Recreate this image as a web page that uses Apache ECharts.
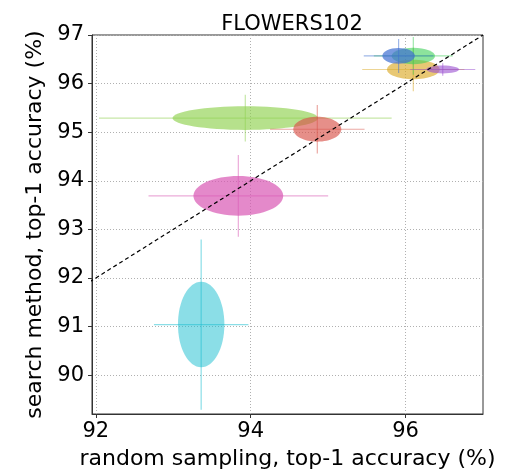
<!DOCTYPE html>
<html>
<head>
<meta charset="utf-8">
<script src="https://cdn.jsdelivr.net/npm/echarts@6/dist/echarts.min.js"></script>
<style>
  html, body { margin: 0; padding: 0; background: #fff; }
  #main { width: 523px; height: 475px; }
</style>
</head>
<body>
<div id="main"></div>
<script>
// mean accuracy of each run (random sampling vs search method)
var xMean = [93.36, 93.84, 93.93, 94.86, 96.10, 96.10, 95.91, 96.48];
var yMean = [91.04, 93.69, 95.29, 95.06, 96.29, 96.57, 96.57, 96.29];
// ellipse half-widths (std)
var xStd = [0.30, 0.58, 0.94, 0.31, 0.34, 0.28, 0.21, 0.21];
var yStd = [0.88, 0.41, 0.245, 0.255, 0.20, 0.17, 0.16, 0.08];
// error bar half-lengths (min/max)
var xErr = [0.61, 1.16, 1.89, 0.61, 0.66, 0.51, 0.45, 0.42];
var yErr = [1.75, 0.84, 0.48, 0.50, 0.45, 0.39, 0.35, 0.13];
var colors = ['#17becf', '#d957b4', '#8fd14f', '#d9534a', '#dbab29', '#3fd15a', '#3f6fd1', '#9a4fd1'];
var fillAlpha = [0.5, 0.7, 0.65, 0.65, 0.65, 0.6, 0.7, 0.6];

var xTicks = [92, 94, 96];
var yTicks = [90, 91, 92, 93, 94, 95, 96, 97];
var diag = [[91, 91], [97, 97]];

var dom = document.getElementById('main');
var myChart = echarts.init(dom);

var items = [];
for (var i = 0; i < xMean.length; i++) {
    items.push([xMean[i], yMean[i], xStd[i], yStd[i], xErr[i], yErr[i], i]);
}

function renderItem(params, api) {
    var x = api.value(0), y = api.value(1);
    var sx = api.value(2), sy = api.value(3);
    var ex = api.value(4), ey = api.value(5);
    var k = api.value(6);
    var c = api.coord([x, y]);
    var l = api.coord([x - ex, y]), r = api.coord([x + ex, y]);
    var t = api.coord([x, y + ey]), b = api.coord([x, y - ey]);
    var size = api.size([sx, sy]);
    var col = colors[k];
    return {
        type: 'group',
        children: [
            { type: 'line', shape: { x1: l[0], y1: l[1], x2: r[0], y2: r[1] },
              style: { stroke: col, lineWidth: 1.2, opacity: 0.5 } },
            { type: 'line', shape: { x1: t[0], y1: t[1], x2: b[0], y2: b[1] },
              style: { stroke: col, lineWidth: 1.2, opacity: 0.5 } },
            { type: 'ellipse', shape: { cx: c[0], cy: c[1], rx: size[0], ry: size[1] },
              style: { fill: col, opacity: fillAlpha[k] } }
        ]
    };
}

var font = 'DejaVu Sans';
option = {
    animation: false,
    title: {
        text: 'FLOWERS102',
        left: 287, top: 9, textAlign: 'center',
        textStyle: { fontFamily: font, fontSize: 21, fontWeight: 'normal', color: '#000' }
    },
    grid: {
        left: 92, right: 40, top: 35, bottom: 55,
        show: true, borderColor: '#333', borderWidth: 1, backgroundColor: 'transparent'
    },
    xAxis: {
        type: 'value', min: 91.95, max: 97.0,
        name: 'random sampling, top-1 accuracy (%)',
        nameLocation: 'middle', nameGap: 34,
        nameTextStyle: { fontFamily: font, fontSize: 22, color: '#000' },
        axisLine: { show: true, onZero: false, lineStyle: { color: '#333', width: 1 } },
        axisTick: { show: true, length: 4, customValues: xTicks, lineStyle: { color: '#333' } },
        axisLabel: { customValues: xTicks, fontFamily: font, fontSize: 21, color: '#000', margin: 7 },
        splitLine: { show: true, lineStyle: { color: '#b0b0b0', type: [1, 2], width: 1 } }
    },
    yAxis: {
        type: 'value', min: 89.2, max: 97.0,
        name: 'search method, top-1 accuracy (%)',
        nameLocation: 'middle', nameGap: 42,
        nameTextStyle: { fontFamily: font, fontSize: 22, color: '#000' },
        axisLine: { show: true, onZero: false, lineStyle: { color: '#333', width: 1 } },
        axisTick: { show: true, length: 4, customValues: yTicks, lineStyle: { color: '#333' } },
        axisLabel: { customValues: yTicks, fontFamily: font, fontSize: 21, color: '#000', margin: 8 },
        splitLine: { show: true, lineStyle: { color: '#b0b0b0', type: [1, 2], width: 1 } }
    },
    series: [
        {
            type: 'custom',
            renderItem: renderItem,
            data: items,
            clip: true,
            z: 2
        },
        {
            type: 'line',
            data: diag,
            symbol: 'none',
            clip: true,
            lineStyle: { color: '#000', width: 1.2, type: [4, 3] },
            z: 5
        }
    ]
};

if (option && typeof option === "object") {
    myChart.setOption(option, true);
}
</script>
</body>
</html>
